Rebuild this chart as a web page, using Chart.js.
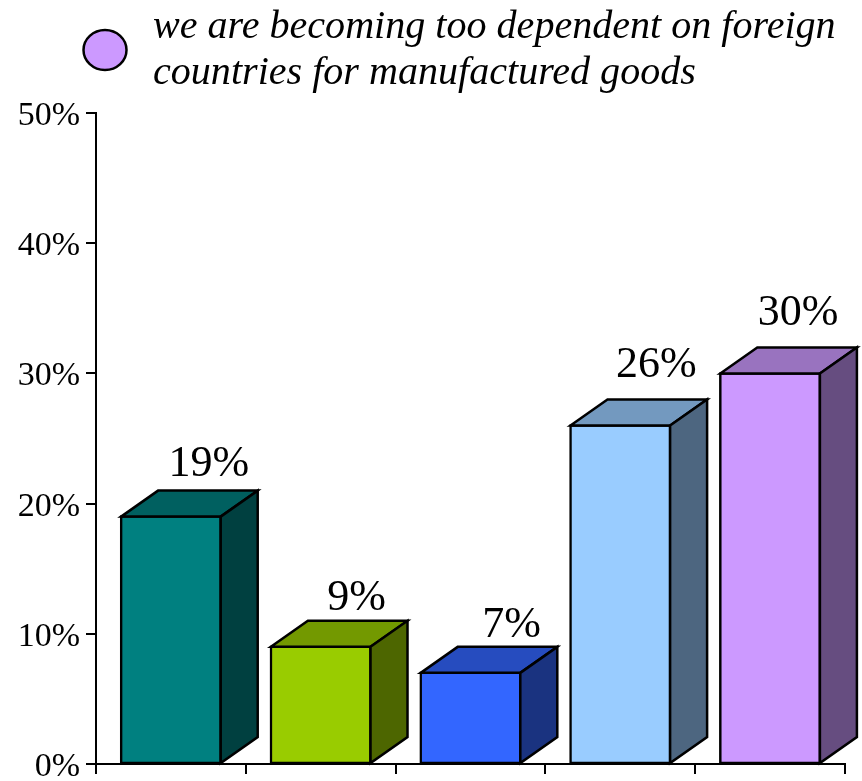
<!DOCTYPE html>
<html>
<head>
<meta charset="utf-8">
<style>html,body{margin:0;padding:0;background:#fff}canvas{display:block}</style>
<script src="https://cdn.jsdelivr.net/npm/chart.js@4"></script>
</head>
<body>
<canvas id="c" width="862" height="781"></canvas>
<script>
const categories = ['Bar 1', 'Bar 2', 'Bar 3', 'Bar 4', 'Bar 5'];
const values = [19, 9, 7, 26, 30];
const yTicks = [0, 10, 20, 30, 40, 50];
const legendLines = ['we are becoming too dependent on foreign', 'countries for manufactured goods'];
const faceColors = ['#008080', '#99CC00', '#3366FF', '#99CCFF', '#CC99FF'];
const topColors = ['#006060', '#739900', '#264CBF', '#7399BF', '#9973BF'];
const sideColors = ['#004040', '#4D6600', '#1A3380', '#4D6680', '#664D80'];
const legendColor = '#CC99FF';

const SERIF = '"Liberation Serif", "Times New Roman", serif';
const DX = 37, DY = 26;
const labelNudge = [[38, 41], [36, 37], [41, 36], [36, 48], [28, 48]];

const box3d = {
  id: 'box3d',
  afterDatasetsDraw(chart) {
    const ctx = chart.ctx;
    const bars = chart.getDatasetMeta(0).data;
    ctx.save();
    ctx.lineWidth = 2.5;
    ctx.lineJoin = 'miter';
    ctx.strokeStyle = '#000';
    bars.forEach((b, i) => {
      const l = b.x - b.width / 2, r = b.x + b.width / 2, t = b.y, bot = b.base;
      ctx.fillStyle = topColors[i];
      ctx.beginPath();
      ctx.moveTo(l, t); ctx.lineTo(l + DX, t - DY); ctx.lineTo(r + DX, t - DY); ctx.lineTo(r, t);
      ctx.closePath(); ctx.fill(); ctx.stroke();
      ctx.fillStyle = sideColors[i];
      ctx.beginPath();
      ctx.moveTo(r, t); ctx.lineTo(r + DX, t - DY); ctx.lineTo(r + DX, bot - DY); ctx.lineTo(r, bot);
      ctx.closePath(); ctx.fill(); ctx.stroke();
      ctx.fillStyle = '#000';
      ctx.font = '44px ' + SERIF;
      ctx.textAlign = 'center';
      ctx.textBaseline = 'alphabetic';
      ctx.fillText(values[i] + '%', b.x + labelNudge[i][0], b.y - labelNudge[i][1]);
    });
    ctx.restore();
  },
  afterDraw(chart) {
    const ctx = chart.ctx;
    ctx.save();
    ctx.fillStyle = legendColor;
    ctx.strokeStyle = '#000';
    ctx.lineWidth = 2.5;
    ctx.beginPath();
    ctx.ellipse(105, 50, 21.5, 20, 0, 0, Math.PI * 2);
    ctx.fill(); ctx.stroke();
    ctx.fillStyle = '#000';
    ctx.font = 'italic 40.1px ' + SERIF;
    ctx.textAlign = 'left';
    ctx.textBaseline = 'alphabetic';
    ctx.fillText(legendLines[0], 153, 38);
    ctx.fillText(legendLines[1], 153, 84);
    ctx.restore();
  }
};

new Chart(document.getElementById('c'), {
  type: 'bar',
  data: {
    labels: categories,
    datasets: [{
      data: values,
      backgroundColor: faceColors,
      borderColor: '#000',
      borderWidth: 2.5,
      borderSkipped: false,
      inflateAmount: 1.25,
      barPercentage: 0.665,
      categoryPercentage: 1
    }]
  },
  options: {
    responsive: false,
    animation: false,
    layout: { padding: { top: 113, right: 17, bottom: 0, left: 0 } },
    plugins: { legend: { display: false }, tooltip: { enabled: false }, title: { display: false } },
    scales: {
      x: {
        afterFit(s) { s.height = 17; s.paddingLeft = 0; s.paddingRight = 0; },
        border: { display: true, color: '#000', width: 2 },
        grid: { display: true, drawOnChartArea: false, drawTicks: true, tickLength: 10, color: '#000', lineWidth: 2 },
        ticks: { display: false }
      },
      y: {
        min: 0,
        max: 50,
        afterFit(s) { s.width = 96; s.paddingTop = 0; s.paddingBottom = 0; },
        afterBuildTicks(s) { s.ticks = yTicks.map(v => ({ value: v })); },
        border: { display: true, color: '#000', width: 2 },
        grid: { display: true, drawOnChartArea: false, drawTicks: true, tickLength: 10, color: '#000', lineWidth: 2 },
        ticks: {
          color: '#000',
          padding: 6,
          labelOffset: 3,
          font: { family: SERIF, size: 34 },
          callback: v => v + '%'
        }
      }
    }
  },
  plugins: [box3d]
});
</script>
</body>
</html>
